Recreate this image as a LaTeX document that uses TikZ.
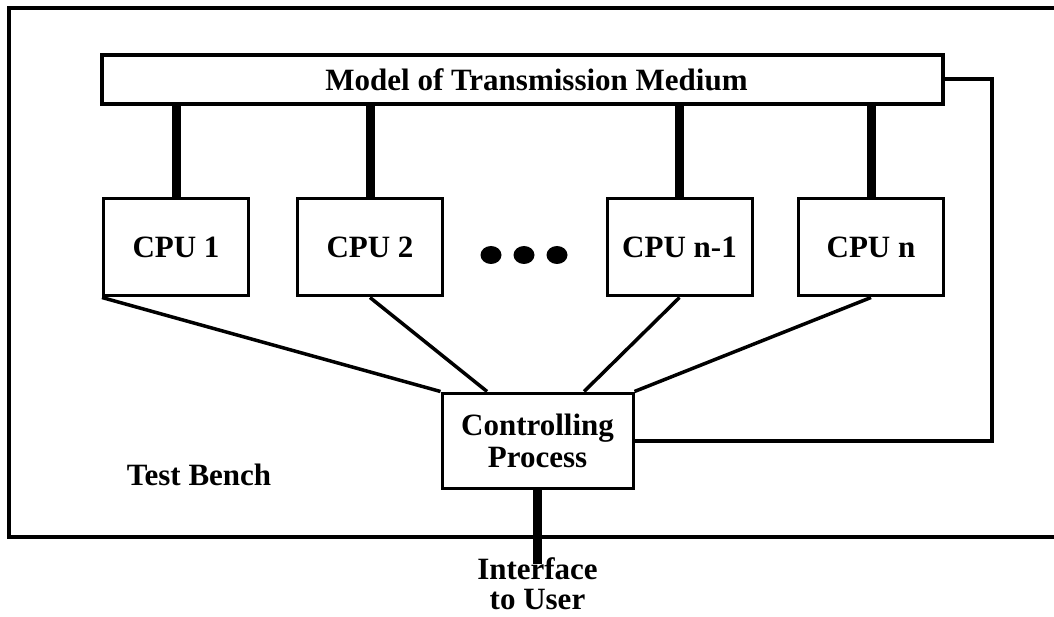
\documentclass[tikz,border=0pt]{standalone}
\usepackage{fontspec}
\setmainfont{Liberation Serif}
\usetikzlibrary{positioning,calc}

\begin{document}
\begin{tikzpicture}[x=1pt, y=-1pt,
    cpubox/.style={draw, line width=3pt, minimum width=145pt, minimum height=97pt, inner sep=0pt, font=\fontsize{31}{32}\selectfont\bfseries},
    busbox/.style={draw, line width=4pt, minimum width=841pt, minimum height=49pt, inner sep=0pt},
    tap/.style={line width=9pt},
    link/.style={line width=3.5pt},
    lbl/.style={font=\fontsize{31}{30}\selectfont\bfseries, align=center, inner sep=0pt}]
  \useasboundingbox (0,0) rectangle (1054,617);
  \draw[line width=4pt] (9,8) rectangle (1080,537);
  \node[busbox, label={[lbl, xshift=14pt]center:Model of Transmission Medium}] (medium) at (522.5,79.5) {};
  \node[cpubox] (cpu1) at (176,247.5) {CPU 1};
  \node[cpubox] (cpu2) at (370,247.5) {CPU 2};
  \node[cpubox] (cpun1) at (679.5,247.5) {CPU n-1};
  \node[cpubox] (cpun) at (871,247.5) {CPU n};
  \foreach \x in {491,524,557}
    \fill (\x,255) ellipse [x radius=10.5pt, y radius=9pt];
  \node[cpubox, minimum width=191pt, minimum height=95pt, align=center, font=\fontsize{31}{32}\selectfont\bfseries] (ctrl) at (537.5,440.5) {Controlling\\Process};
  \node[lbl] (bench) at (199,474.5) {Test Bench};
  \node[lbl] (user) at (537.5,584) {Interface\\to User};
  \foreach \c in {cpu1,cpu2,cpun1,cpun}
    \draw[tap] (\c.north) -- (\c.north |- medium.south);
  \coordinate (in2) at ($(ctrl.north west)!0.24!(ctrl.north east)$);
  \coordinate (in3) at ($(ctrl.north west)!0.74!(ctrl.north east)$);
  \draw[link] (cpu1.south west) -- (ctrl.north west);
  \draw[link] (cpu2.south) -- (in2);
  \draw[link] (cpun1.south) -- (in3);
  \draw[link] (cpun.south) -- (ctrl.north east);
  \draw[line width=4pt] (medium.east) -- ++(47,0) |- (ctrl.east);
  \draw[tap, shorten >=-6pt] (ctrl.south) -- (user.north);
\end{tikzpicture}
\end{document}
